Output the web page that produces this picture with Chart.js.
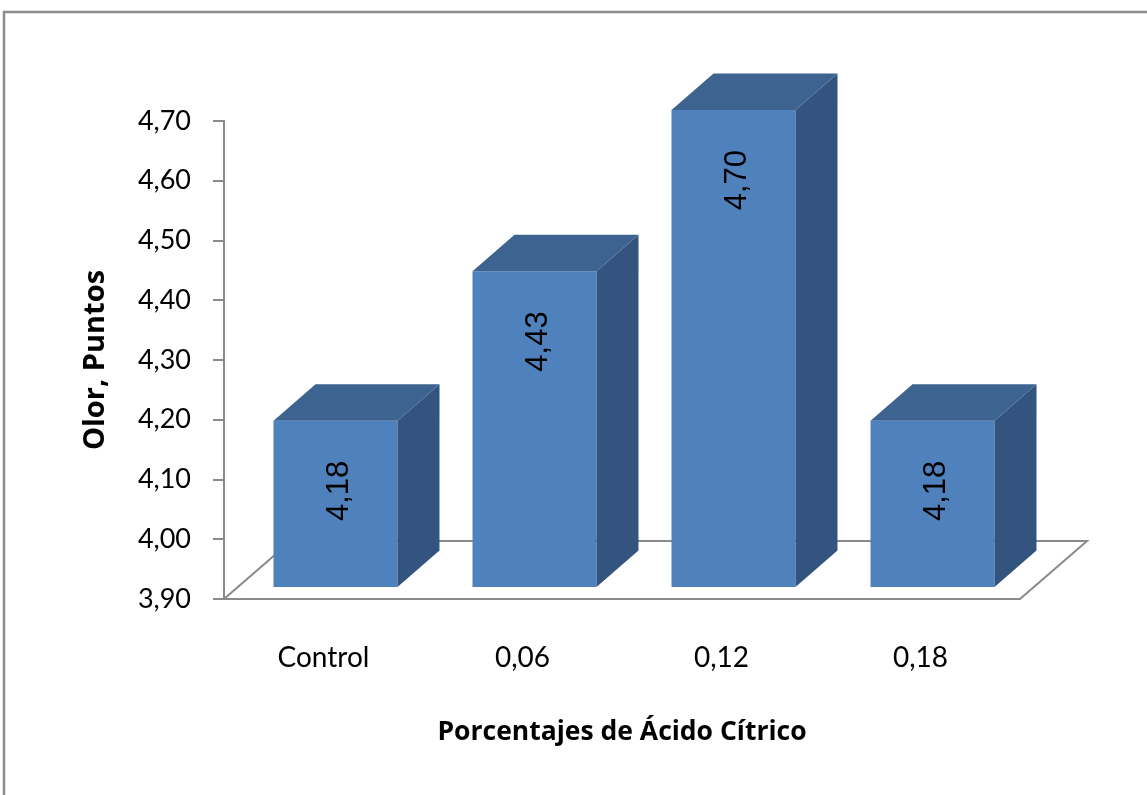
<!DOCTYPE html>
<html>
<head>
<meta charset="utf-8">
<script src="https://cdn.jsdelivr.net/npm/chart.js@4/dist/chart.umd.min.js"></script>
<style>
  html, body { margin: 0; padding: 0; background: #ffffff; }
  #wrap { width: 1147px; height: 795px; }
</style>
</head>
<body>
<div id="wrap"><canvas id="c" width="1147" height="795"></canvas></div>
<script>
// Olor (puntos) por porcentaje de ácido cítrico
const categories = ['Control', '0,06', '0,12', '0,18'];
const olorValues = [4.18, 4.43, 4.70, 4.18];
const yTickMin = 3.90;
const yTickMax = 4.70;
const yTickStep = 0.10;

const FRONT = '#4F81BD';
const TOP = '#3D6391';
const SIDE = '#33547F';
const AXIS_GRAY = '#8a8a8a';

// oblique projection used for the 3D look
const FLOOR_DEPTH = { dx: 67, dy: -58 };   // full depth of the floor
const FACE_SHIFT = { dx: 12, dy: -11 };    // bar front face, inside the floor
const BAR_DEPTH = { dx: 42, dy: -36.5 };   // bar thickness

const fmt = v => v.toFixed(2).replace('.', ',');

const box3d = {
  id: 'box3d',
  beforeDraw(chart) {
    const ctx = chart.ctx;
    ctx.save();
    ctx.strokeStyle = '#8c8c8c';
    ctx.lineWidth = 2.5;
    ctx.beginPath();
    ctx.moveTo(4, 795);
    ctx.lineTo(4, 12);
    ctx.lineTo(1147, 12);
    ctx.stroke();
    ctx.restore();
  },
  beforeDatasetsDraw(chart) {
    const ctx = chart.ctx;
    const xs = chart.scales.x, ys = chart.scales.y;
    const y0 = ys.getPixelForValue(yTickMin);
    ctx.save();
    ctx.strokeStyle = AXIS_GRAY;
    ctx.lineWidth = 2;
    ctx.fillStyle = '#ffffff';
    ctx.beginPath();
    ctx.moveTo(xs.left, y0);
    ctx.lineTo(xs.right, y0);
    ctx.lineTo(xs.right + FLOOR_DEPTH.dx, y0 + FLOOR_DEPTH.dy);
    ctx.lineTo(xs.left + FLOOR_DEPTH.dx, y0 + FLOOR_DEPTH.dy);
    ctx.closePath();
    ctx.fill();
    ctx.stroke();
    ctx.restore();
    // bar front faces are drawn by Chart.js, shifted into the floor
    ctx.save();
    ctx.translate(FACE_SHIFT.dx, FACE_SHIFT.dy);
  },
  afterDatasetsDraw(chart) {
    const ctx = chart.ctx;
    ctx.restore();
    const meta = chart.getDatasetMeta(0);
    meta.data.forEach((bar, i) => {
      const p = bar.getProps(['x', 'y', 'base', 'width'], true);
      const L = p.x - p.width / 2 + FACE_SHIFT.dx;
      const R = p.x + p.width / 2 + FACE_SHIFT.dx;
      const T = p.y + FACE_SHIFT.dy;
      const B = p.base + FACE_SHIFT.dy;
      const dx = BAR_DEPTH.dx, dy = BAR_DEPTH.dy;
      ctx.save();
      // side face
      ctx.fillStyle = SIDE;
      ctx.beginPath();
      ctx.moveTo(R, T);
      ctx.lineTo(R, B);
      ctx.lineTo(R + dx, B + dy);
      ctx.lineTo(R + dx, T + dy);
      ctx.closePath();
      ctx.fill();
      // top face
      ctx.fillStyle = TOP;
      ctx.beginPath();
      ctx.moveTo(L, T);
      ctx.lineTo(R, T);
      ctx.lineTo(R + dx, T + dy);
      ctx.lineTo(L + dx, T + dy);
      ctx.closePath();
      ctx.fill();
      // value label, rotated, near the top of the front face
      ctx.fillStyle = '#000000';
      ctx.font = '31px "Liberation Sans", Arial, sans-serif';
      ctx.textAlign = 'right';
      ctx.textBaseline = 'middle';
      ctx.translate((L + R) / 2 + 4, T + 40);
      ctx.rotate(-Math.PI / 2);
      ctx.fillText(fmt(olorValues[i]), 0, 0);
      ctx.restore();
    });
  }
};

new Chart(document.getElementById('c'), {
  type: 'bar',
  data: {
    labels: categories,
    datasets: [{
      data: olorValues,
      base: yTickMin,
      backgroundColor: FRONT,
      borderWidth: 0,
      barPercentage: 0.623,
      categoryPercentage: 1,
      clip: false
    }]
  },
  options: {
    responsive: false,
    animation: false,
    devicePixelRatio: 1,
    layout: { padding: { top: 121, right: 127, bottom: 0, left: 0 } },
    plugins: { legend: { display: false }, tooltip: { enabled: false } },
    scales: {
      x: {
        offset: true,
        grid: { display: false, drawTicks: false },
        border: { display: false },
        ticks: {
          color: '#000000',
          padding: 42,
          font: { family: 'Lato, "Open Sans", sans-serif', size: 28 }
        },
        title: {
          display: true,
          text: 'Porcentajes de Ácido Cítrico',
          color: '#000000',
          padding: { top: 0, bottom: 47 },
          font: { family: '"Open Sans", Lato, sans-serif', size: 26.5, weight: 'bold' }
        },
        afterFit(scale) { scale.height = 196; }
      },
      y: {
        min: yTickMin,
        max: yTickMax,
        grid: {
          drawOnChartArea: false,
          drawTicks: true,
          tickLength: 11,
          color: AXIS_GRAY,
          lineWidth: 2
        },
        border: { display: true, color: AXIS_GRAY, width: 2 },
        ticks: {
          stepSize: yTickStep,
          color: '#000000',
          padding: 22,
          font: { family: 'Lato, "Open Sans", sans-serif', size: 27 },
          callback: v => fmt(v)
        },
        title: {
          display: true,
          text: 'Olor, Puntos',
          color: '#000000',
          padding: { top: 78, bottom: 0 },
          font: { family: '"Open Sans", Lato, sans-serif', size: 29, weight: 'bold' }
        },
        afterFit(scale) { scale.width = 224; }
      }
    }
  },
  plugins: [box3d]
});
</script>
</body>
</html>
